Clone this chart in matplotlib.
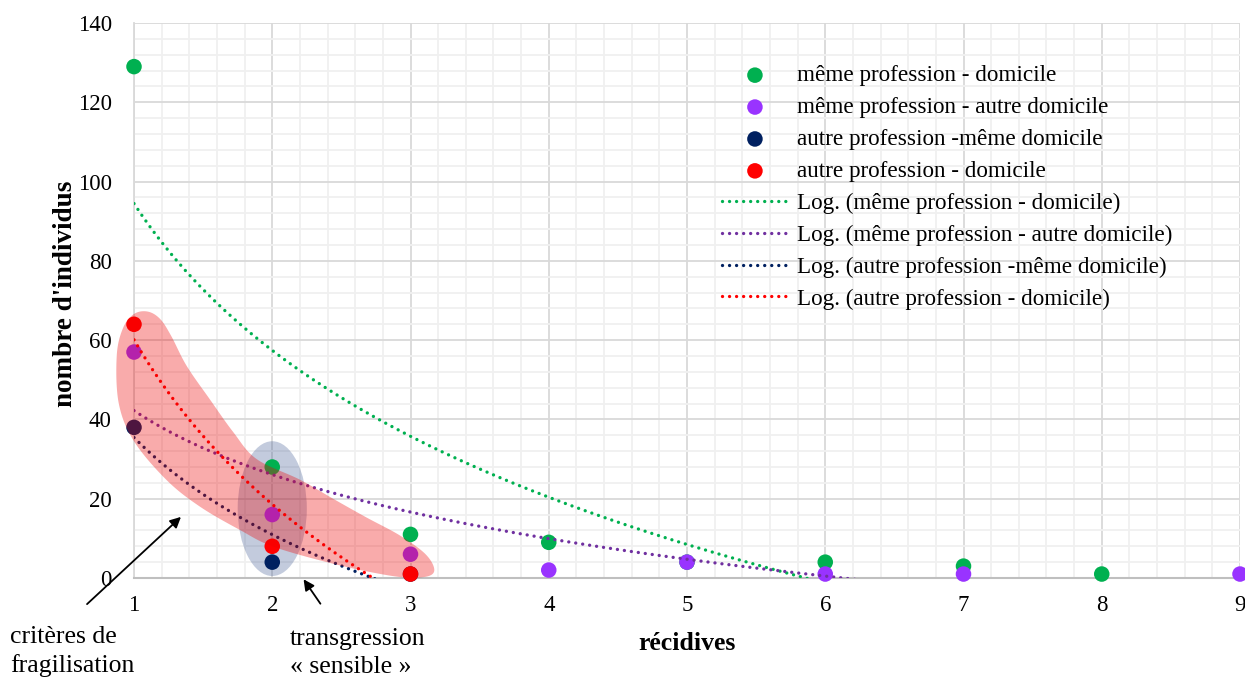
import numpy as np
import matplotlib
matplotlib.use("Agg")
import matplotlib.pyplot as plt
from matplotlib.patches import Ellipse, Polygon

plt.rcParams['font.family'] = ['Liberation Serif', 'DejaVu Serif']

# ---- data ----
x_green = [1, 2, 3, 4, 5, 6, 7, 8]
y_green = [129, 28, 11, 9, 4, 4, 3, 1]
x_purple = [1, 2, 3, 4, 5, 6, 7, 9]
y_purple = [57, 16, 6, 2, 4, 1, 1, 1]
x_navy = [1, 2, 3]
y_navy = [38, 4, 1]
x_red = [1, 2, 3]
y_red = [64, 8, 1]

labels = ["même profession - domicile",
          "même profession - autre domicile",
          "autre profession -même domicile",
          "autre profession - domicile"]
marker_colors = ["#00B050", "#9933FF", "#002060", "#FF0000"]
trend_colors = ["#00B050", "#7030A0", "#002060", "#FF0000"]
xticks = list(range(1, 10))
yticks = list(range(0, 141, 20))

W, H = 1245, 679
fig = plt.figure(figsize=(W / 100, H / 100), dpi=100)
ax = fig.add_axes([134 / W, 1 - 578 / H, (1240 - 134) / W, (578 - 23) / H])
ax.set_xlim(1, 9)
ax.set_ylim(0, 140)

ax.set_xticks(xticks)
ax.set_yticks(yticks)
ax.set_xticks(np.arange(1, 9.01, 0.2), minor=True)
ax.set_yticks(np.arange(0, 140.1, 4), minor=True)
ax.grid(True, which='major', color='#D9D9D9', lw=1.3, zorder=0)
ax.grid(True, which='minor', color='#F0F0F0', lw=1.3, zorder=0)
ax.set_axisbelow(True)
ax.tick_params(which='both', length=0, labelsize=16.5)
ax.tick_params(axis='x', pad=12)
ax.tick_params(axis='y', pad=16)
for s in ['top', 'right']:
    ax.spines[s].set_visible(False)
ax.spines['bottom'].set_color('#BFBFBF')
ax.spines['left'].set_color('#D9D9D9')
ax.spines['bottom'].set_linewidth(1.5)
ax.spines['left'].set_linewidth(1.3)

ax.set_xlabel("récidives", fontsize=18.5, fontweight='bold', labelpad=12)
ax.set_ylabel("nombre d'individus", fontsize=19.5, fontweight='bold')
ax.yaxis.set_label_coords((65 - 134) / (1240 - 134), (578 - 294) / (578 - 23))
ax.yaxis.label.set_verticalalignment('center')

# ellipse (transgression sensible)
ell = Ellipse((2, 17.5), 0.5, 34, facecolor='#3A5590', alpha=0.3, edgecolor='none', zorder=1)
ax.add_patch(ell)

series = [(x_green, y_green), (x_purple, y_purple), (x_navy, y_navy), (x_red, y_red)]
handles_pts = []
for (xs, ys), lab, c in zip(series, labels, marker_colors):
    h = ax.scatter(xs, ys, s=125, color=c, label=lab, zorder=3, clip_on=False, edgecolors='none')
    handles_pts.append(h)

handles_tr = []
for (xs, ys), lab, c in zip(series, labels, trend_colors):
    a, b = np.polyfit(np.log(xs), ys, 1)
    xx = np.linspace(min(xs), max(xs), 400)
    yy = a * np.log(xx) + b
    ln, = ax.plot(xx, yy, color=c, lw=2.4, linestyle=(0, (0.01, 2.1)),
                  dash_capstyle='round', label="Log. (" + lab + ")", zorder=4)
    handles_tr.append(ln)

# red blob (critères de fragilisation)
pts = np.array([
    (1.00, 66.6), (1.10, 67.2), (1.19, 65.3), (1.27, 61.0), (1.381, 53.5),
    (1.55, 45.0), (1.718, 36.8), (1.887, 30.0), (2.20, 24.8), (2.44, 20.0),
    (2.68, 15.3), (2.92, 10.8), (3.10, 6.3), (3.17, 2.6), (3.14, 0.6),
    (3.00, 0.1), (2.80, 0.9), (2.44, 3.6), (2.008, 7.9), (1.767, 12.1),
    (1.477, 18.0), (1.236, 24.7), (1.00, 34.5), (0.89, 44.0), (0.875, 56.0),
    (0.92, 63.0)])


def catmull(p, n=20):
    out = []
    N = len(p)
    for i in range(N):
        p0, p1, p2, p3 = p[(i - 1) % N], p[i], p[(i + 1) % N], p[(i + 2) % N]
        t = np.linspace(0, 1, n, endpoint=False)[:, None]
        c = 0.5 * ((2 * p1) + (-p0 + p2) * t + (2 * p0 - 5 * p1 + 4 * p2 - p3) * t ** 2
                   + (-p0 + 3 * p1 - 3 * p2 + p3) * t ** 3)
        out.append(c)
    return np.vstack(out)


blob = Polygon(catmull(pts), closed=True, facecolor='#EE0000', alpha=0.33,
               edgecolor='none', zorder=5, clip_on=False)
ax.add_patch(blob)

leg = ax.legend(handles=handles_pts + handles_tr, loc='upper left',
                bbox_to_anchor=(722 / W, 1 - 65 / H), bbox_transform=fig.transFigure,
                frameon=False, fontsize=16.7, handlelength=2.84, handletextpad=0.39,
                labelspacing=0.46, borderpad=0, borderaxespad=0, scatterpoints=1)

def fp(px, py):
    return (px / W, 1 - py / H)

ax.annotate("", xy=fp(183, 515), xytext=fp(85, 606), xycoords='figure fraction',
            textcoords='figure fraction',
            arrowprops=dict(arrowstyle='-|>', color='black', lw=1.3, mutation_scale=16))
ax.annotate("", xy=fp(302, 577), xytext=fp(322, 606), xycoords='figure fraction',
            textcoords='figure fraction',
            arrowprops=dict(arrowstyle='-|>', color='black', lw=1.3, mutation_scale=16))

fs = 18.5
fig.text(10 / W, 1 - 637 / H, "critères de", fontsize=fs, va='center', ha='left')
fig.text(10 / W, 1 - 666 / H, "fragilisation", fontsize=fs, va='center', ha='left')
fig.text(290 / W, 1 - 639 / H, "transgression", fontsize=fs, va='center', ha='left')
fig.text(290 / W, 1 - 667 / H, "« sensible »", fontsize=fs, va='center', ha='left')

fig.savefig("out.png", dpi=100)
